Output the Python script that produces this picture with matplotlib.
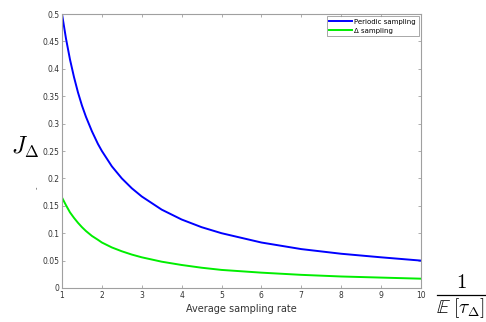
import matplotlib
matplotlib.use("Agg")
import matplotlib.pyplot as plt
from matplotlib.lines import Line2D

rate = [1, 1.1, 1.2, 1.3, 1.4, 1.5, 1.6, 1.75, 1.9, 2, 2.25, 2.5, 2.75, 3, 3.5, 4, 4.5, 5, 6, 7, 8, 9, 10]
periodic = [0.5, 0.455, 0.417, 0.385, 0.357, 0.333, 0.3125, 0.286, 0.263, 0.25, 0.222, 0.2, 0.182, 0.167,
            0.143, 0.125, 0.111, 0.1, 0.083, 0.071, 0.0625, 0.056, 0.05]
delta = [0.165, 0.151, 0.138, 0.128, 0.119, 0.111, 0.104, 0.095, 0.088, 0.083, 0.074, 0.067, 0.061, 0.056,
         0.048, 0.042, 0.037, 0.033, 0.028, 0.024, 0.021, 0.019, 0.017]
xticks = list(range(1, 11))
yticks = [0, 0.05, 0.1, 0.15, 0.2, 0.25, 0.3, 0.35, 0.4, 0.45, 0.5]
ytick_labels = ["0", "0.05", "0.1", "0.15", "0.2", "0.25", "0.3", "0.35", "0.4", "0.45", "0.5"]

plt.rcParams['mathtext.fontset'] = 'cm'
fig = plt.figure(figsize=(4.86, 3.22), dpi=100)
ax = fig.add_axes([0.1276, 0.1056, 0.866 - 0.1276, 0.9565 - 0.1056])
ax.plot(rate, periodic, color='#0000ff', lw=1.4, label='Periodic sampling')
ax.plot(rate, delta, color='#00ee00', lw=1.4, label='Δ sampling')
ax.set_xlim(1, 10)
ax.set_ylim(0, 0.5)
ax.set_xticks(xticks)
ax.set_xticklabels([str(t) for t in xticks])
ax.set_yticks(yticks)
ax.set_yticklabels(ytick_labels)
for s in ax.spines.values():
    s.set_color('#a0a0a0')
    s.set_linewidth(0.8)
ax.tick_params(direction='in', length=2.5, width=0.6, colors='#a0a0a0', labelcolor='#333333',
               labelsize=5.5, top=True, right=True, pad=2)
ax.set_xlabel('Average sampling rate', fontsize=7, color='#333333', labelpad=3)

leg = ax.legend(loc='upper right', fontsize=5, frameon=True, fancybox=False, borderpad=0.4,
                handlelength=3.2, handletextpad=0.4, labelspacing=0.4, borderaxespad=0.3)
leg.get_frame().set_edgecolor('#808080')
leg.get_frame().set_linewidth(0.6)

W, H = 486, 322
fig.text(25 / W, 1 - 147 / H, r'$J_\Delta$', fontsize=17, ha='center', va='center')
fig.text(37 / W, 1 - 188 / H, '-', fontsize=5, rotation=90, ha='center', va='center', color='#333333')
# fraction label 1 / E[tau_Delta]
fig.text(461 / W, 1 - 282 / H, r'$1$', fontsize=15, ha='center', va='center')
fig.add_artist(Line2D([437 / W, 485 / W], [1 - 295 / H, 1 - 295 / H], color='black', lw=0.9,
                      transform=fig.transFigure))
fig.text(460 / W, 1 - 308 / H, r'$\mathbb{E}\;[\tau_\Delta]$', fontsize=14, ha='center', va='center')

fig.savefig('out.png', dpi=100)
